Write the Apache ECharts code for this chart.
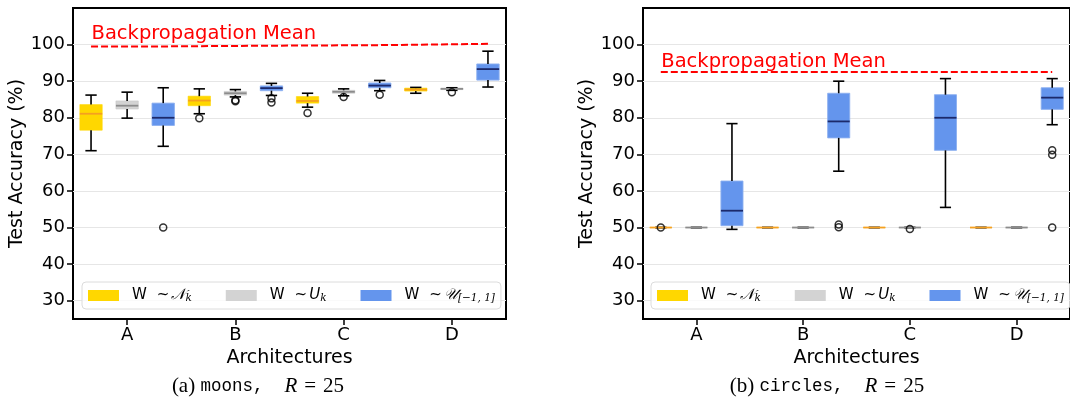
<!DOCTYPE html>
<html>
<head>
<meta charset="utf-8">
<script src="https://cdn.jsdelivr.net/npm/echarts@6/dist/echarts.min.js"></script>
<style>
html,body{margin:0;padding:0;background:#fff;}
#main{width:1070px;height:406px;}
</style>
</head>
<body>
<div id="main"></div>
<script>
// 数据
var architectures = ['A', 'B', 'C', 'D'];
var methods = ['normal', 'uniformK', 'uniform'];
var yTicks = [30, 40, 50, 60, 70, 80, 90, 100];

// [min, q1, median, q3, max] for A..D
var moonsNormal   = [[71.0, 76.6, 81.1, 83.6, 86.2], [81.1, 83.3, 84.7, 85.9, 87.9], [82.9, 84.0, 84.6, 85.8, 86.7], [86.7, 87.3, 87.7, 88.1, 88.3]];
var moonsUniformK = [[79.9, 82.4, 83.3, 84.6, 87.0], [85.7, 86.2, 86.7, 87.2, 87.7], [86.0, 86.7, 87.1, 87.5, 87.9], [87.5, 87.7, 87.9, 88.1, 88.2]];
var moonsUniform  = [[72.2, 77.9, 80.0, 84.0, 88.2], [86.1, 87.4, 88.1, 88.7, 89.4], [87.4, 88.2, 88.8, 89.5, 90.2], [88.4, 90.3, 93.3, 94.7, 98.2]];
// outliers: [architecture index, value]
var moonsNormalOut   = [[1, 79.9], [2, 81.3]];
var moonsUniformKOut = [[1, 84.5], [1, 84.8], [2, 85.7], [3, 87.0]];
var moonsUniformOut  = [[0, 50.0], [1, 85.3], [1, 84.2], [2, 86.3]];
var moonsBackprop = [99.5, 99.7, 99.85, 100.2];

var circlesNormal   = [[50, 50, 50, 50, 50], [50, 50, 50, 50, 50], [50, 50, 50, 50, 50], [50, 50, 50, 50, 50]];
var circlesUniformK = [[50, 50, 50, 50, 50], [50, 50, 50, 50, 50], [50, 50, 50, 50, 50], [50, 50, 50, 50, 50]];
var circlesUniform  = [[49.5, 50.5, 54.6, 62.7, 78.4], [65.4, 74.5, 79.0, 86.7, 90.0], [55.5, 71.1, 80.0, 86.3, 90.7], [78.1, 82.3, 85.5, 88.2, 90.7]];
var circlesNormalOut   = [[0, 50.0]];
var circlesUniformKOut = [[2, 49.6]];
var circlesUniformOut  = [[1, 50.8], [1, 50.1], [3, 71.1], [3, 69.9], [3, 50.0]];
var circlesBackprop = [92.5, 92.5, 92.5, 92.5];

// 文字位置 (数值坐标)
var moonsLabelY = 102.9;
var circlesLabelY = 95.2;

var fills   = {normal: '#FFD700', uniformK: '#D3D3D3', uniform: '#6495ED'};
var edges   = {normal: 'rgba(255,215,0,0.6)', uniformK: 'rgba(200,200,200,0.6)', uniform: 'rgba(140,175,240,0.9)'};
var medians = {normal: '#f5a020', uniformK: '#8c8c8c', uniform: '#1c2a6b'};

var FONT = 'DejaVu Sans';

var categories = [];
architectures.forEach(function (a) {
    methods.forEach(function (m) { categories.push(a + '|' + m); });
});

function boxRenderer(fill, edge, median) {
    return function (params, api) {
        var c = api.value(0);
        var pLo = api.coord([c, api.value(1)]);
        var pQ1 = api.coord([c, api.value(2)]);
        var pMd = api.coord([c, api.value(3)]);
        var pQ3 = api.coord([c, api.value(4)]);
        var pHi = api.coord([c, api.value(5)]);
        var band = api.size([1, 0])[0];
        var half = band * 0.31, cap = band * 0.157;
        var x = pMd[0];
        function blk() { return {stroke: '#000', lineWidth: 1.6}; }
        return {
            type: 'group',
            children: [
                {type: 'rect', shape: {x: x - half, y: pQ3[1], width: half * 2, height: pQ1[1] - pQ3[1]}, style: {fill: fill, stroke: edge, lineWidth: 1}},
                {type: 'line', shape: {x1: x, y1: pQ3[1], x2: x, y2: pHi[1]}, style: blk()},
                {type: 'line', shape: {x1: x, y1: pQ1[1], x2: x, y2: pLo[1]}, style: blk()},
                {type: 'line', shape: {x1: x - cap, y1: pHi[1], x2: x + cap, y2: pHi[1]}, style: blk()},
                {type: 'line', shape: {x1: x - cap, y1: pLo[1], x2: x + cap, y2: pLo[1]}, style: blk()},
                {type: 'line', shape: {x1: x - half, y1: pMd[1], x2: x + half, y2: pMd[1]}, style: {stroke: median, lineWidth: 1.8}}
            ]
        };
    };
}

function panelSeries(p, boxes, outs, backprop, labelY) {
    var list = [];
    var outData = [];
    methods.forEach(function (m, mi) {
        var data = boxes[mi].map(function (b, ai) {
            return [ai * 3 + mi].concat(b);
        });
        list.push({
            name: m,
            type: 'custom',
            xAxisIndex: p, yAxisIndex: p,
            renderItem: boxRenderer(fills[m], edges[m], medians[m]),
            itemStyle: {color: fills[m]},
            encode: {x: 0, y: [1, 2, 3, 4, 5]},
            data: data,
            z: 2
        });
        outs[mi].forEach(function (o) { outData.push([o[0] * 3 + mi, o[1]]); });
    });
    list.push({
        type: 'scatter',
        xAxisIndex: p, yAxisIndex: p,
        symbol: 'circle',
        symbolSize: 7,
        itemStyle: {color: 'rgba(255,255,255,0)', borderColor: '#000', borderWidth: 1.5},
        data: outData,
        z: 4
    });
    // 反向传播均值 (每个架构一段)
    var lineData = backprop.map(function (v, i) { return [i === 0 ? 0 : i * 3 - 1, v]; });
    lineData.push([categories.length - 1, backprop[backprop.length - 1]]);
    list.push({
        type: 'line',
        xAxisIndex: p, yAxisIndex: p,
        step: 'end',
        showSymbol: false,
        data: lineData,
        lineStyle: {color: '#ff0000', width: 2, type: [7, 3]},
        z: 3,
        markPoint: {
            symbol: 'circle',
            symbolSize: 1,
            itemStyle: {color: 'rgba(0,0,0,0)'},
            data: [{coord: [0, labelY]}],
            label: {
                show: true,
                position: 'right',
                distance: 0,
                formatter: 'Backpropagation Mean',
                color: '#ff0000',
                fontFamily: FONT,
                fontSize: 19.5
            }
        }
    });
    return list;
}

function xAxisFor(p) {
    return {
        type: 'category',
        gridIndex: p,
        data: categories,
        axisLine: {show: false},
        axisTick: {show: true, alignWithLabel: true, length: 6, interval: function (i) { return i % 3 === 1; }, lineStyle: {color: '#000', width: 1.5}},
        axisLabel: {
            interval: function (i) { return i % 3 === 1; },
            formatter: function (v) { return v.split('|')[0]; },
            color: '#000', fontFamily: FONT, fontSize: 18, margin: 7
        },
        splitLine: {show: false},
        name: 'Architectures',
        nameLocation: 'middle',
        nameGap: 22,
        nameTextStyle: {color: '#000', fontFamily: FONT, fontSize: 19}
    };
}

function yAxisFor(p) {
    return {
        type: 'value',
        gridIndex: p,
        min: 25,
        max: 110,
        axisLine: {show: false},
        axisTick: {show: true, length: 6, customValues: yTicks, lineStyle: {color: '#000', width: 1.5}},
        axisLabel: {customValues: yTicks, color: '#000', fontFamily: FONT, fontSize: 18, margin: 8},
        splitLine: {show: true, lineStyle: {color: '#e6e6e6', width: 1}},
        name: 'Test Accuracy (%)',
        nameLocation: 'middle',
        nameGap: 40,
        nameTextStyle: {color: '#000', fontFamily: FONT, fontSize: 19}
    };
}

var legendText = {
    normal: '{w|W}{s|~}{m|\uD835\uDCA9}{k|k}',
    uniformK: '{w|W}{s|~}{i|U}{k|k}',
    uniform: '{w|W}{s|~}{m|\uD835\uDCB0}{k|[\u22121, 1]}'
};

function legendFor(left) {
    return {
        data: methods,
        left: left,
        top: 282,
        orient: 'horizontal',
        icon: 'rect',
        itemWidth: 31,
        itemHeight: 11,
        itemGap: 34,
        padding: [6, 6, 5, 6],
        backgroundColor: 'rgba(255,255,255,0.8)',
        borderColor: '#dcdcdc',
        borderWidth: 1,
        borderRadius: 4,
        selectedMode: false,
        formatter: function (name) { return legendText[name]; },
        textStyle: {
            color: '#000',
            fontFamily: FONT,
            fontSize: 15,
            rich: {
                w: {fontFamily: FONT, fontSize: 15, padding: [0, 10, 0, 8], color: '#000'},
                s: {fontFamily: FONT, fontSize: 15, color: '#000', padding: [0, 2, 0, 0]},
                m: {fontFamily: 'DejaVu Serif', fontSize: 15, fontStyle: 'italic', color: '#000'},
                i: {fontFamily: 'DejaVu Sans', fontSize: 15, fontStyle: 'italic', color: '#000'},
                k: {fontFamily: 'DejaVu Serif', fontSize: 10.5, fontStyle: 'italic', color: '#000', verticalAlign: 'bottom', padding: [6, 0, 0, 0]}
            }
        }
    };
}

var captionRich = {
    n: {fontFamily: 'Liberation Serif', fontSize: 21, color: '#000'},
    m: {fontFamily: 'Liberation Mono', fontSize: 17.5, color: '#000'},
    i: {fontFamily: 'Liberation Serif', fontSize: 21, fontStyle: 'italic', color: '#000'}
};

var myChart = echarts.init(document.getElementById('main'), null, {renderer: 'canvas'});

var option = {
    animation: false,
    backgroundColor: '#fff',
    grid: [
        {left: 73, top: 8, width: 433, height: 311, show: true, borderColor: '#000', borderWidth: 2, backgroundColor: 'transparent'},
        {left: 643, top: 8, width: 432, height: 311, show: true, borderColor: '#000', borderWidth: 2, backgroundColor: 'transparent'}
    ],
    xAxis: [xAxisFor(0), xAxisFor(1)],
    yAxis: [yAxisFor(0), yAxisFor(1)],
    legend: [legendFor(82), legendFor(651)],
    series: []
        .concat(panelSeries(0, [moonsNormal, moonsUniformK, moonsUniform], [moonsNormalOut, moonsUniformKOut, moonsUniformOut], moonsBackprop, moonsLabelY))
        .concat(panelSeries(1, [circlesNormal, circlesUniformK, circlesUniform], [circlesNormalOut, circlesUniformKOut, circlesUniformOut], circlesBackprop, circlesLabelY)),
    graphic: [
        {type: 'text', x: 258, y: 397, style: {text: '{n|(a) }{m|moons,}{n|\u2003}{i|R}{n|\u2004=\u200425}', rich: captionRich, align: 'center', verticalAlign: 'bottom'}},
        {type: 'text', x: 827, y: 397, style: {text: '{n|(b) }{m|circles,}{n|\u2003}{i|R}{n|\u2004=\u200425}', rich: captionRich, align: 'center', verticalAlign: 'bottom'}}
    ]
};

myChart.setOption(option);
</script>
</body>
</html>
